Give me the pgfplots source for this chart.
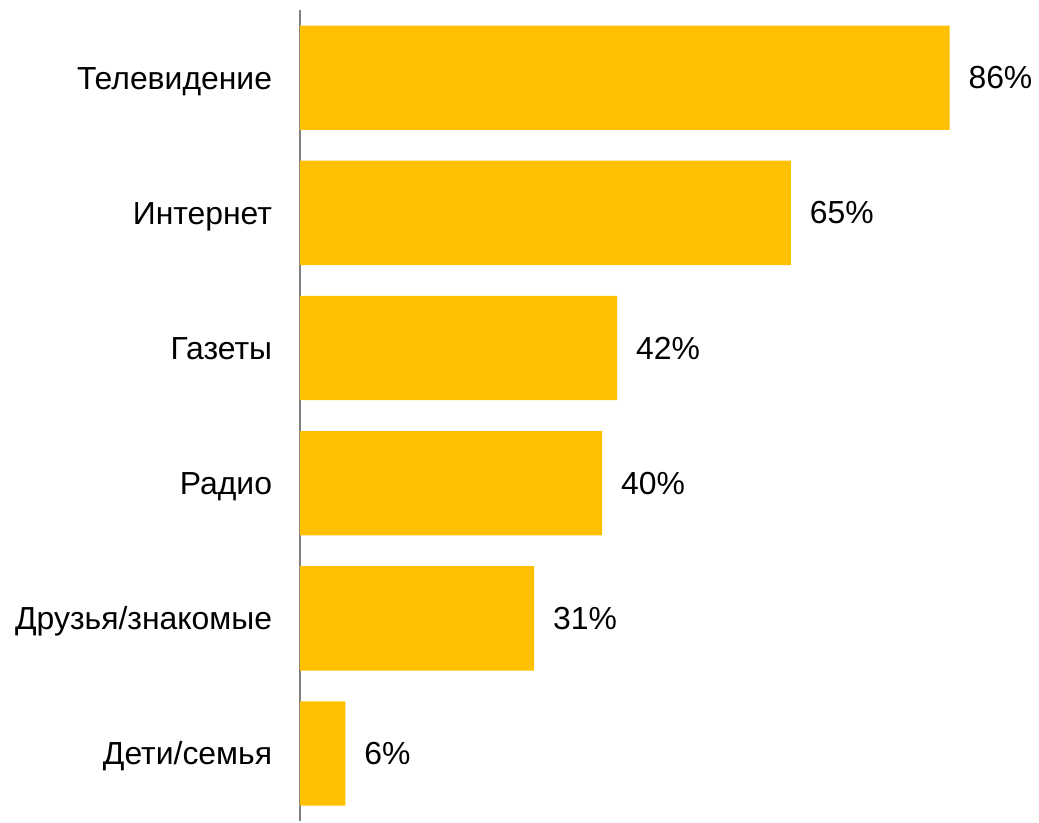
\documentclass[border=0pt]{standalone}
\usepackage{pgfplots}
\pgfplotsset{compat=1.18}
\usepackage{fontspec}
\setmainfont{Liberation Sans}
\definecolor{GOLD}{RGB}{255,192,0}
\definecolor{AXGRAY}{RGB}{128,128,128}

\begin{document}
\begin{tikzpicture}
\begin{axis}[
    scale only axis,
    width=325.85pt,
    height=406.8pt,
    xmin=0, xmax=86,
    ymin=-0.5, ymax=5.5,
    y dir=reverse,
    axis x line=none,
    axis y line*=left,
    y axis line style={AXGRAY, line width=1pt},
    ytick={0,1,2,3,4,5},
    yticklabels={Телевидение,Интернет,Газеты,Радио,Друзья/знакомые,Дети/семья},
    major tick length=0pt,
    yticklabel style={font=\fontsize{16}{19}\selectfont, anchor=base east, yshift=-5.7pt, xshift=-10.5pt},
    xbar,
    bar width=0.772,
    clip=false,
    nodes near coords={\pgfmathprintnumber[assume math mode=true]{\pgfplotspointmeta}\%},
    nodes near coords style={font=\fontsize{16}{19}\selectfont, anchor=west, xshift=6pt},
]
\addplot[draw=none, fill=GOLD] coordinates {
    (86,0) (65,1) (42,2) (40,3) (31,4) (6,5)
};
\end{axis}
\useasboundingbox (-150.5pt,2.4pt) rectangle (369pt,411.9pt);
\end{tikzpicture}
\end{document}
